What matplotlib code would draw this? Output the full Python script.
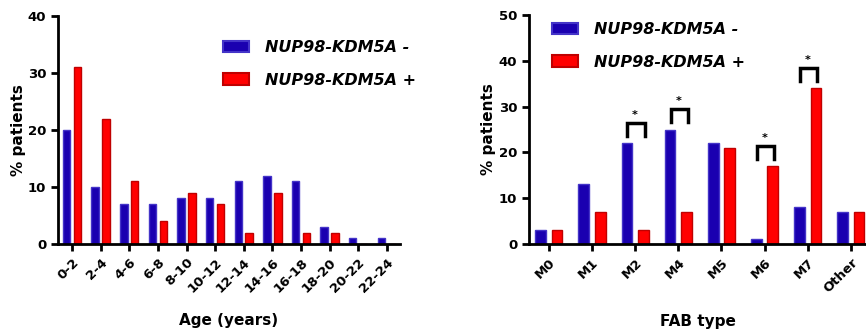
import numpy as np
import matplotlib
matplotlib.use("Agg")
import matplotlib.pyplot as plt
from matplotlib.patches import Patch

# age distribution (% patients)
age_groups = ['0-2', '2-4', '4-6', '6-8', '8-10', '10-12', '12-14',
              '14-16', '16-18', '18-20', '20-22', '22-24']
age_neg = [20, 10, 7, 7, 8, 8, 11, 12, 11, 3, 1, 1]
age_pos = [31, 22, 11, 4, 9, 7, 2, 9, 2, 2, 0, 0]

# FAB type distribution (% patients)
fab_types = ['M0', 'M1', 'M2', 'M4', 'M5', 'M6', 'M7', 'Other']
fab_neg = [3, 13, 22, 25, 22, 1, 8, 7]
fab_pos = [3, 7, 3, 7, 21, 17, 34, 7]

# significant comparisons: category, bracket top value
sig_cats = ['M2', 'M4', 'M6', 'M7']
sig_tops = [26.5, 29.5, 21.4, 38.5]

labels = ['NUP98-KDM5A -', 'NUP98-KDM5A +']
blue, blue_edge = '#1a00b0', '#4434c8'
red, red_edge = '#ff0000', '#c00000'

plt.rcParams['font.family'] = 'DejaVu Sans'
plt.rcParams['font.weight'] = 'bold'

fig = plt.figure(figsize=(8.66, 3.31), dpi=100)
W, H = 866, 331


def px_axes(x0, x1, y_top, y_bot):
    return fig.add_axes([x0 / W, (H - y_bot) / H, (x1 - x0) / W, (y_bot - y_top) / H])


def style(ax):
    for s in ['top', 'right']:
        ax.spines[s].set_visible(False)
    for s in ['left', 'bottom']:
        ax.spines[s].set_linewidth(2)
    ax.tick_params(width=2, length=5, labelsize=9.5, direction='out')
    for lab in ax.get_yticklabels():
        lab.set_fontweight('bold')


def bars(ax, cats, neg, pos, w=0.25, off=0.19):
    x = np.arange(len(cats))
    ax.bar(x - off, neg, w, color=blue, edgecolor=blue_edge, linewidth=1)
    ax.bar(x + off, pos, w, color=red, edgecolor=red_edge, linewidth=1)
    ax.set_xticks(x)
    ax.set_xticklabels(cats, rotation=45, ha='right', rotation_mode='anchor',
                       fontweight='bold', fontsize=9.5)
    return x


handles = [Patch(facecolor=blue, edgecolor=blue_edge, linewidth=1.5),
           Patch(facecolor=red, edgecolor=red_edge, linewidth=1.5)]
leg_kw = dict(loc='upper left', frameon=False, bbox_transform=fig.transFigure,
              prop={'style': 'italic', 'weight': 'bold', 'size': 11.5},
              handlelength=1.6, handleheight=0.75, labelspacing=1.1,
              handletextpad=1.0, borderpad=0, borderaxespad=0)

# left panel: age
ax1 = px_axes(58, 400, 16, 244)
bars(ax1, age_groups, age_neg, age_pos, w=0.26)
ax1.set_xlim(-0.49, 11.46)
ax1.set_ylim(0, 40)
ax1.set_yticks([0, 10, 20, 30, 40])
style(ax1)
ax1.set_ylabel('% patients', fontsize=11, fontweight='bold', labelpad=1)
ax1.set_xlabel('Age (years)', fontsize=11, fontweight='bold', labelpad=13)
ax1.legend(handles, labels, bbox_to_anchor=(223 / W, 1 - 40 / H), **leg_kw)

# right panel: FAB type
ax2 = px_axes(529, 866, 15, 244)
x2 = bars(ax2, fab_types, fab_neg, fab_pos, w=0.25)
ax2.set_xlim(-0.46, 7.35)
ax2.set_ylim(0, 50)
ax2.set_yticks([0, 10, 20, 30, 40, 50])
style(ax2)
ax2.set_ylabel('% patients', fontsize=11, fontweight='bold', labelpad=2)
ax2.set_xlabel('FAB type', fontsize=11, fontweight='bold', labelpad=14)
ax2.legend(handles, labels, bbox_to_anchor=(552 / W, 1 - 22 / H), **leg_kw)

for cat, top in zip(sig_cats, sig_tops):
    i = fab_types.index(cat)
    xl, xr = i - 0.18, i + 0.22
    ax2.plot([xl, xl, xr, xr], [top - 2.9, top, top, top - 2.9], color='black',
             lw=2.5, solid_joinstyle='miter', clip_on=False)
    ax2.text((xl + xr) / 2 - 0.02, top + 0.6, '*', ha='center', va='bottom', fontsize=8)

fig.savefig('out.png', dpi=100)
